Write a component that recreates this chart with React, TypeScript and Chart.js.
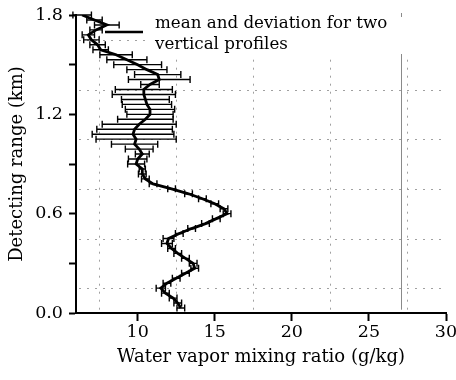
import { useEffect, useRef } from "react";
import { Chart, registerables } from "chart.js";

Chart.register(...registerables);

const heights = [
  0.03, 0.06, 0.09, 0.12, 0.15, 0.18, 0.21, 0.24, 0.27, 0.3,
  0.33, 0.36, 0.39, 0.42, 0.45, 0.48, 0.51, 0.54, 0.57, 0.6,
  0.63, 0.66, 0.69, 0.72, 0.75, 0.78, 0.81, 0.84, 0.87, 0.9,
  0.93, 0.96, 0.99, 1.02, 1.05, 1.08, 1.11, 1.14, 1.17, 1.2,
  1.23, 1.26, 1.29, 1.32, 1.35, 1.38, 1.41, 1.44, 1.47, 1.5,
  1.53, 1.56, 1.59, 1.62, 1.65, 1.68, 1.71, 1.74, 1.77, 1.8,
];

const meanRatio = [
  12.8, 12.6, 12.3, 11.8, 11.5, 11.9, 12.5, 13.1, 13.7, 13.6,
  13.1, 12.6, 12.2, 11.9, 12.0, 12.7, 13.5, 14.4, 15.1, 15.8,
  15.6, 15.0, 14.2, 13.3, 12.2, 11.0, 10.5, 10.3, 10.3, 9.9,
  10.0, 10.3, 10.1, 9.8, 9.9, 9.7, 9.8, 10.1, 10.5, 10.8,
  10.8, 10.6, 10.5, 10.4, 10.4, 10.8, 11.4, 11.3, 10.6, 10.0,
  9.3, 8.6, 7.6, 7.4, 7.0, 6.8, 7.3, 8.0, 7.2, 6.4,
];

const deviation = [
  0.25, 0.25, 0.25, 0.25, 0.3, 0.25, 0.25, 0.25, 0.25, 0.25,
  0.25, 0.25, 0.25, 0.35, 0.35, 0.25, 0.25, 0.25, 0.25, 0.25,
  0.25, 0.25, 0.25, 0.25, 0.25, 0.25, 0.25, 0.25, 0.2, 0.55,
  0.6, 0.45, 0.9, 1.5, 2.6, 2.65, 2.45, 2.4, 1.8, 1.5,
  1.6, 1.6, 1.55, 2.05, 1.85, 0.6, 2.0, 1.5, 1.3, 1.55,
  1.3, 1.05, 0.5, 0.5, 0.5, 0.4, 0.4, 0.8, 0.5, 0.6,
];

const xTicks = [10, 15, 20, 25, 30];
const yTicks = [0, 0.3, 0.6, 0.9, 1.2, 1.5, 1.8];
const yTickLabels = ["0.0", "", "0.6", "", "1.2", "", "1.8"];
const gridX = [7.5, 12.5, 17.5, 22.5, 27.5];
const gridY = [0.15, 0.45, 0.75, 1.05, 1.35, 1.65];
const refLineX = [27.1];
const legendLines = ["mean and deviation for two", "vertical profiles"];
const xTitle = "Water vapor mixing ratio (g/kg)";
const yTitle = "Detecting range (km)";
const X_MIN = 6;
const X_MAX = 30;
const Y_MIN = 0;
const Y_MAX = 1.8;

const FONT = '"DejaVu Serif", serif';

const gridPlugin = {
  id: "dottedGrid",
  beforeDatasetsDraw(chart: any) {
    const { ctx, chartArea, scales } = chart;
    const x = scales.x;
    const y = scales.y;
    ctx.save();
    ctx.strokeStyle = "#a0a0a0";
    ctx.lineWidth = 1;
    ctx.setLineDash([2, 6]);
    const yb = y.getPixelForValue(0.02);
    gridX.forEach((v) => {
      const px = Math.round(x.getPixelForValue(v)) + 0.5;
      ctx.beginPath();
      ctx.moveTo(px, yb);
      ctx.lineTo(px, chartArea.top);
      ctx.stroke();
    });
    gridY.forEach((v) => {
      const py = Math.round(y.getPixelForValue(v)) + 0.5;
      ctx.beginPath();
      ctx.moveTo(chartArea.left + 3, py);
      ctx.lineTo(chartArea.right, py);
      ctx.stroke();
    });
    ctx.setLineDash([]);
    ctx.strokeStyle = "#8a8a8a";
    refLineX.forEach((v) => {
      const px = Math.round(x.getPixelForValue(v)) + 0.5;
      ctx.beginPath();
      ctx.moveTo(px, chartArea.top - 2);
      ctx.lineTo(px, yb);
      ctx.stroke();
    });
    // legend background box
    ctx.fillStyle = "#ffffff";
    ctx.fillRect(chartArea.left + 74, chartArea.top + 2, chartArea.right, 37);
    ctx.restore();
  },
};

const errorBarPlugin = {
  id: "errorBars",
  afterDatasetsDraw(chart: any) {
    const { ctx, scales } = chart;
    const x = scales.x;
    const y = scales.y;
    ctx.save();
    ctx.strokeStyle = "#000";
    ctx.lineWidth = 1.4;
    heights.forEach((h, i) => {
      const py = y.getPixelForValue(h);
      const x1 = x.getPixelForValue(meanRatio[i] - deviation[i]);
      const x2 = x.getPixelForValue(meanRatio[i] + deviation[i]);
      ctx.beginPath();
      ctx.moveTo(x1, py);
      ctx.lineTo(x2, py);
      ctx.moveTo(x1, py - 3.5);
      ctx.lineTo(x1, py + 3.5);
      ctx.moveTo(x2, py - 3.5);
      ctx.lineTo(x2, py + 3.5);
      ctx.stroke();
    });
    ctx.restore();
  },
};

const legendPlugin = {
  id: "customLegend",
  afterDraw(chart: any) {
    const { ctx, chartArea } = chart;
    const { left, top } = chartArea;
    ctx.save();
    ctx.strokeStyle = "#000";
    ctx.lineWidth = 2.5;
    ctx.beginPath();
    ctx.moveTo(left + 29, top + 17);
    ctx.lineTo(left + 67, top + 17);
    ctx.stroke();
    ctx.fillStyle = "#000";
    ctx.font = `16.7px ${FONT}`;
    ctx.textBaseline = "middle";
    ctx.textAlign = "left";
    ctx.fillText(legendLines[0], left + 79, top + 9);
    ctx.fillText(legendLines[1], left + 79, top + 30);
    ctx.restore();
  },
};

export default function App() {
  const canvasRef = useRef<HTMLCanvasElement | null>(null);

  useEffect(() => {
    if (!canvasRef.current) return;
    const chart = new Chart(canvasRef.current, {
      type: "line",
      data: {
        datasets: [
          {
            label: legendLines.join(" "),
            data: heights.map((h, i) => ({ x: meanRatio[i], y: h })),
            borderColor: "#000",
            borderWidth: 2.8,
            pointRadius: 0,
            tension: 0,
            fill: false,
          },
        ],
      },
      options: {
        animation: false,
        responsive: true,
        maintainAspectRatio: false,
        layout: { padding: { top: 15, right: 10, left: 0, bottom: 0 } },
        plugins: {
          legend: { display: false },
          tooltip: { enabled: false },
        },
        scales: {
          x: {
            type: "linear",
            min: X_MIN,
            max: X_MAX,
            afterBuildTicks: (axis: any) => {
              axis.ticks = xTicks.map((v) => ({ value: v }));
            },
            afterFit: (scale: any) => {
              scale.height = 67;
              scale.paddingLeft = 0;
              scale.paddingRight = 0;
            },
            grid: {
              display: true,
              drawOnChartArea: false,
              drawTicks: true,
              tickLength: 8,
              tickWidth: 2,
              tickColor: "#000",
            },
            border: { display: true, color: "#000", width: 2 },
            ticks: {
              color: "#000",
              font: { family: FONT, size: 17.5 },
              padding: 1,
              maxRotation: 0,
              autoSkip: false,
              callback: (value: any) => String(value),
            },
            title: {
              display: true,
              text: xTitle,
              color: "#000",
              font: { family: FONT, size: 18 },
              padding: { top: 0, bottom: 12 },
            },
          },
          y: {
            type: "linear",
            min: Y_MIN,
            max: Y_MAX,
            afterBuildTicks: (axis: any) => {
              axis.ticks = yTicks.map((v) => ({ value: v }));
            },
            afterFit: (scale: any) => {
              scale.width = 76;
              scale.paddingTop = 0;
              scale.paddingBottom = 0;
            },
            grid: {
              display: true,
              drawOnChartArea: false,
              drawTicks: true,
              tickLength: 7,
              tickWidth: 2,
              tickColor: "#000",
            },
            border: { display: true, color: "#000", width: 2 },
            ticks: {
              color: "#000",
              font: { family: FONT, size: 17.5 },
              padding: 6,
              autoSkip: false,
              callback: (value: any) => {
                const idx = yTicks.findIndex((t) => Math.abs(t - value) < 1e-9);
                return idx >= 0 ? yTickLabels[idx] : "";
              },
            },
            title: {
              display: true,
              text: yTitle,
              color: "#000",
              font: { family: FONT, size: 18 },
              padding: { top: 7, bottom: 0 },
            },
          },
        },
      },
      plugins: [gridPlugin, errorBarPlugin, legendPlugin],
    });
    return () => chart.destroy();
  }, []);

  return (
    <div style={{ position: "fixed", left: 0, top: 0, width: 456, height: 380, background: "#fff" }}>
      <canvas ref={canvasRef} />
    </div>
  );
}
